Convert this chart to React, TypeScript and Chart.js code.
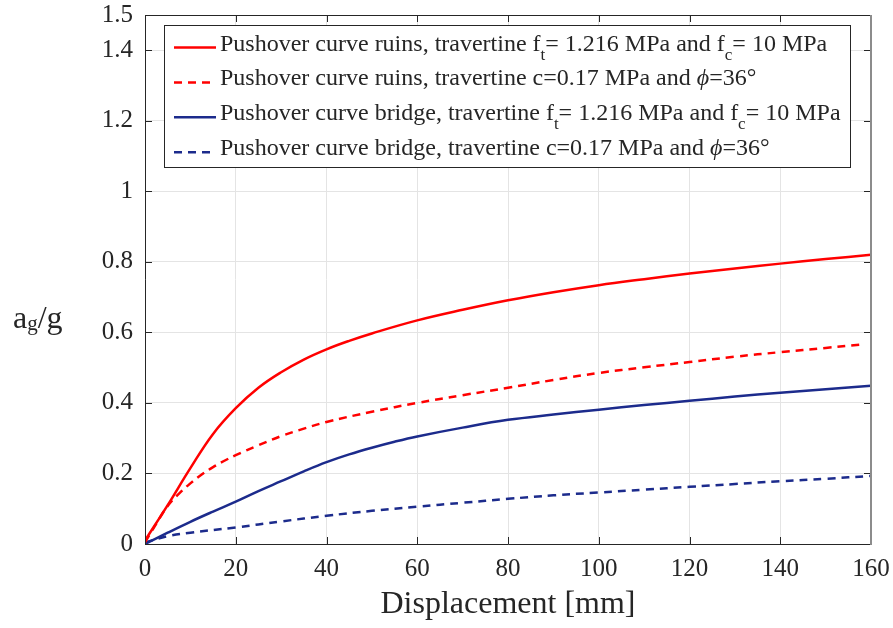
import React, { useEffect, useRef } from 'react';
import { Chart, registerables } from 'chart.js';

Chart.register(...registerables);

// Pushover curves: displacement [mm] vs a_g/g
const ruinsFtX = [0, 5, 10, 15, 20, 25, 30, 35, 40, 45, 50, 60, 70, 80, 90, 100, 110, 120, 130, 140, 150, 160];
const ruinsFtY = [0.01, 0.11, 0.215, 0.312, 0.385, 0.443, 0.487, 0.523, 0.552, 0.576, 0.597, 0.634, 0.664, 0.691, 0.714, 0.734, 0.751, 0.767, 0.781, 0.795, 0.808, 0.82];

const ruinsCphiX = [0, 2.5, 5, 7.5, 10, 12.5, 15, 17.5, 20, 25, 30, 35, 40, 50, 60, 70, 80, 90, 100, 110, 120, 130, 140, 150, 157.5];
const ruinsCphiY = [0.005, 0.058, 0.108, 0.143, 0.172, 0.197, 0.218, 0.236, 0.252, 0.28, 0.306, 0.327, 0.346, 0.375, 0.4, 0.422, 0.443, 0.465, 0.485, 0.501, 0.516, 0.531, 0.544, 0.556, 0.565];

const bridgeFtX = [0, 5, 10, 15, 20, 25, 30, 35, 40, 45, 50, 55, 60, 70, 80, 90, 100, 110, 120, 130, 140, 150, 160];
const bridgeFtY = [0, 0.032, 0.063, 0.092, 0.12, 0.15, 0.178, 0.206, 0.232, 0.254, 0.273, 0.29, 0.305, 0.33, 0.352, 0.367, 0.381, 0.394, 0.406, 0.418, 0.429, 0.439, 0.449];

const bridgeCphiX = [0, 5, 10, 20, 30, 40, 50, 60, 70, 80, 90, 100, 110, 120, 130, 140, 150, 160];
const bridgeCphiY = [0.005, 0.022, 0.032, 0.047, 0.064, 0.08, 0.094, 0.106, 0.117, 0.128, 0.138, 0.146, 0.154, 0.162, 0.17, 0.178, 0.185, 0.193];

// Axis ticks
const xTicks = [0, 20, 40, 60, 80, 100, 120, 140, 160];
const yTicks = [0, 0.2, 0.4, 0.6, 0.8, 1, 1.2, 1.4, 1.5];

// Legend entries as text runs; 'sub' runs are subscripts, 'it' runs italic
type Run = [string, '' | 'sub' | 'it'];
const legendRuns: Run[][] = [
  [['Pushover curve ruins, travertine f', ''], ['t', 'sub'], ['= 1.216 MPa and f', ''], ['c', 'sub'], ['= 10 MPa', '']],
  [['Pushover curve ruins, travertine c=0.17 MPa and ', ''], ['\u03D5', 'it'], ['=36\u00B0', '']],
  [['Pushover curve bridge, travertine f', ''], ['t', 'sub'], ['= 1.216 MPa and f', ''], ['c', 'sub'], ['= 10 MPa', '']],
  [['Pushover curve bridge, travertine c=0.17 MPa and ', ''], ['\u03D5', 'it'], ['=36\u00B0', '']],
];

const RED = '#ff0000';
const BLUE = '#1c2b8c';
const TEXT = '#262626';
const SERIF = '"Liberation Serif", "Times New Roman", serif';

const toPoints = (xs: number[], ys: number[]) => xs.map((x, i) => ({ x, y: ys[i] }));

const plainLabel = (runs: Run[]) => runs.map((r) => r[0]).join('');

function drawRuns(ctx: CanvasRenderingContext2D, runs: Run[], x: number, y: number, size: number) {
  let cx = x;
  for (const [t, kind] of runs) {
    if (kind === 'sub') {
      ctx.font = `${Math.round(size * 0.7)}px ${SERIF}`;
      ctx.fillText(t, cx, y + size * 0.38);
    } else if (kind === 'it') {
      ctx.font = `italic ${size}px ${SERIF}`;
      ctx.fillText(t, cx, y);
    } else {
      ctx.font = `${size}px ${SERIF}`;
      ctx.fillText(t, cx, y);
    }
    cx += ctx.measureText(t).width;
  }
}

const framePlugin = {
  id: 'frameTicks',
  afterDatasetsDraw(chart: any) {
    const { ctx, chartArea: a, scales } = chart;
    const tl = 7;
    ctx.save();
    ctx.strokeStyle = TEXT;
    ctx.lineWidth = 1;
    ctx.beginPath();
    for (const v of xTicks) {
      const px = Math.round(scales.x.getPixelForValue(v)) + 0.5;
      ctx.moveTo(px, a.bottom);
      ctx.lineTo(px, a.bottom - tl);
      ctx.moveTo(px, a.top);
      ctx.lineTo(px, a.top + tl);
    }
    for (const v of yTicks) {
      const py = Math.round(scales.y.getPixelForValue(v)) + 0.5;
      ctx.moveTo(a.left, py);
      ctx.lineTo(a.left + tl, py);
      ctx.moveTo(a.right, py);
      ctx.lineTo(a.right - tl, py);
    }
    ctx.stroke();
    // axes box
    ctx.beginPath();
    ctx.moveTo(a.left + 0.5, a.top + 0.5);
    ctx.lineTo(a.right, a.top + 0.5);
    ctx.moveTo(a.left + 0.5, a.top);
    ctx.lineTo(a.left + 0.5, a.bottom + 0.5);
    ctx.lineTo(a.right, a.bottom + 0.5);
    ctx.stroke();
    ctx.strokeStyle = '#8c8c8c';
    ctx.lineWidth = 2;
    ctx.beginPath();
    ctx.moveTo(a.right, a.top);
    ctx.lineTo(a.right, a.bottom + 1);
    ctx.stroke();
    ctx.restore();
  },
  afterDraw(chart: any) {
    const { ctx, chartArea: a, data } = chart;
    ctx.save();
    // legend box
    const bx = a.left + 19;
    const by = a.top + 10;
    const bw = 686;
    const bh = 142;
    ctx.fillStyle = '#ffffff';
    ctx.fillRect(bx, by, bw, bh);
    ctx.strokeStyle = TEXT;
    ctx.lineWidth = 1;
    ctx.strokeRect(bx + 0.5, by + 0.5, bw, bh);
    const size = 24;
    ctx.textBaseline = 'alphabetic';
    legendRuns.forEach((runs, i) => {
      const ds = data.datasets[i];
      const cy = by + 22.5 + i * 34.9;
      ctx.strokeStyle = ds.borderColor;
      ctx.lineWidth = ds.borderWidth;
      ctx.setLineDash(ds.borderDash || []);
      ctx.beginPath();
      ctx.moveTo(bx + 10, cy);
      ctx.lineTo(bx + 52, cy);
      ctx.stroke();
      ctx.setLineDash([]);
      ctx.fillStyle = TEXT;
      drawRuns(ctx, runs, bx + 56, cy + 3, size);
    });
    // y axis title a_g/g
    ctx.fillStyle = TEXT;
    ctx.font = `32px ${SERIF}`;
    ctx.fillText('a', 13, 328);
    const aw = ctx.measureText('a').width;
    ctx.font = `21px ${SERIF}`;
    ctx.fillText('g', 13 + aw, 330);
    const gw = ctx.measureText('g').width;
    ctx.font = `32px ${SERIF}`;
    ctx.fillText('/g', 13 + aw + gw, 328);
    ctx.restore();
  },
};

export default function App() {
  const canvasRef = useRef<HTMLCanvasElement | null>(null);

  useEffect(() => {
    if (!canvasRef.current) return;
    const series = [
      { runs: legendRuns[0], pts: toPoints(ruinsFtX, ruinsFtY), color: RED, dash: [] as number[] },
      { runs: legendRuns[1], pts: toPoints(ruinsCphiX, ruinsCphiY), color: RED, dash: [8, 6] },
      { runs: legendRuns[2], pts: toPoints(bridgeFtX, bridgeFtY), color: BLUE, dash: [] as number[] },
      { runs: legendRuns[3], pts: toPoints(bridgeCphiX, bridgeCphiY), color: BLUE, dash: [8, 6] },
    ];
    const chart = new Chart(canvasRef.current, {
      type: 'line',
      data: {
        datasets: series.map((s) => ({
          label: plainLabel(s.runs),
          data: s.pts,
          borderColor: s.color,
          backgroundColor: s.color,
          borderWidth: 2.5,
          borderDash: s.dash,
          pointRadius: 0,
          fill: false,
          tension: 0.4,
        })),
      },
      options: {
        animation: false,
        responsive: true,
        maintainAspectRatio: false,
        layout: { padding: { top: 15, right: 22, left: 0, bottom: 0 } },
        plugins: { legend: { display: false }, tooltip: { enabled: false } },
        scales: {
          x: {
            type: 'linear',
            min: 0,
            max: 160,
            afterBuildTicks: (s: any) => {
              s.ticks = xTicks.map((v) => ({ value: v }));
            },
            afterFit: (s: any) => {
              s.height = 84;
              s.paddingLeft = 0;
              s.paddingRight = 0;
            },
            grid: { color: '#e4e4e4', lineWidth: 1, drawTicks: false },
            border: { display: false },
            ticks: {
              padding: 10,
              color: TEXT,
              font: { family: SERIF, size: 25 },
              maxRotation: 0,
              autoSkip: false,
            },
            title: {
              display: true,
              text: 'Displacement [mm]',
              color: TEXT,
              font: { family: SERIF, size: 32 },
              padding: { top: 4, bottom: 4 },
            },
          },
          y: {
            type: 'linear',
            min: 0,
            max: 1.5,
            afterBuildTicks: (s: any) => {
              s.ticks = yTicks.map((v) => ({ value: v }));
            },
            afterFit: (s: any) => {
              s.width = 145;
              s.paddingTop = 0;
              s.paddingBottom = 0;
            },
            grid: { color: '#e4e4e4', lineWidth: 1, drawTicks: false },
            border: { display: false },
            ticks: {
              padding: 12,
              color: TEXT,
              font: { family: SERIF, size: 25 },
              autoSkip: false,
              callback: (v: any) => String(Number(Number(v).toFixed(2))),
            },
          },
        },
      },
      plugins: [framePlugin],
    });
    return () => chart.destroy();
  }, []);

  return (
    <div style={{ position: 'fixed', left: 0, top: 0, width: 893, height: 628, background: '#fff' }}>
      <canvas ref={canvasRef} />
    </div>
  );
}
